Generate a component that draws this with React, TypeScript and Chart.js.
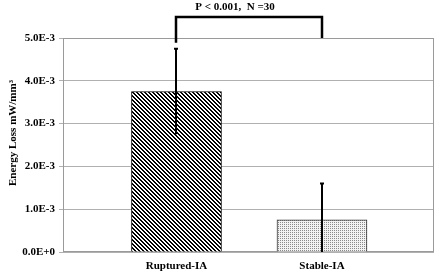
import React, { useEffect, useRef } from "react";
import { Chart, registerables } from "chart.js";

Chart.register(...registerables);

const CATEGORIES = ["Ruptured-IA", "Stable-IA"];
const MEANS = [3.75e-3, 0.75e-3];
const ERRORS = [1.0e-3, 0.85e-3];
const Y_TICKS = [0, 1e-3, 2e-3, 3e-3, 4e-3, 5e-3];
const ANNOTATION = "P < 0.001,  N =30";
const Y_TITLE = "Energy Loss mW/mm\u00B3";

const FONT = "'Liberation Serif', 'Times New Roman', serif";

function makeHatch(): CanvasPattern | string {
  const c = document.createElement("canvas");
  c.width = 4;
  c.height = 4;
  const g = c.getContext("2d");
  if (!g) return "#000";
  g.fillStyle = "#ffffff";
  g.fillRect(0, 0, 4, 4);
  g.fillStyle = "#000000";
  for (let y = 0; y < 4; y++) {
    for (let x = 0; x < 4; x++) {
      const d = (((x - y) % 4) + 4) % 4;
      if (d === 0 || d === 1) g.fillRect(x, y, 1, 1);
    }
  }
  const p = g.createPattern(c, "repeat");
  return p || "#000";
}

function makeDots(): CanvasPattern | string {
  const c = document.createElement("canvas");
  c.width = 2;
  c.height = 2;
  const g = c.getContext("2d");
  if (!g) return "#ccc";
  g.fillStyle = "#f2f2f2";
  g.fillRect(0, 0, 2, 2);
  g.fillStyle = "#8a8a8a";
  g.fillRect(0, 0, 1, 1);
  const p = g.createPattern(c, "repeat");
  return p || "#ccc";
}

const framePlugin = {
  id: "frame",
  beforeDatasetsDraw(chart: any) {
    const { ctx, chartArea } = chart;
    ctx.save();
    ctx.strokeStyle = "#9a9a9a";
    ctx.lineWidth = 1;
    ctx.strokeRect(
      Math.round(chartArea.left) + 0.5,
      Math.round(chartArea.top) + 0.5,
      Math.round(chartArea.right - chartArea.left) - 1,
      Math.round(chartArea.bottom - chartArea.top) - 1
    );
    ctx.restore();
  },
};

const errorPlugin = {
  id: "errorBars",
  afterDatasetsDraw(chart: any) {
    const { ctx } = chart;
    const xs = chart.scales.x;
    const ys = chart.scales.y;
    ctx.save();
    ctx.strokeStyle = "#000";
    ctx.lineWidth = 2;
    MEANS.forEach((m, i) => {
      const x = Math.round(xs.getPixelForValue(i));
      const yTop = ys.getPixelForValue(m + ERRORS[i]);
      const yBot = ys.getPixelForValue(Math.max(0, m - ERRORS[i]));
      ctx.beginPath();
      ctx.moveTo(x, yTop);
      ctx.lineTo(x, yBot);
      ctx.moveTo(x - 2, yTop);
      ctx.lineTo(x + 2, yTop);
      ctx.stroke();
    });
    ctx.restore();
  },
  afterDraw(chart: any) {
    const { ctx, chartArea } = chart;
    const xs = chart.scales.x;
    const ys = chart.scales.y;
    const xl = Math.round(xs.getPixelForValue(0));
    const xr = Math.round(xs.getPixelForValue(1));
    const top = chartArea.top - 21;
    const leftBottom = ys.getPixelForValue(MEANS[0] + ERRORS[0]) - 6;
    ctx.save();
    ctx.strokeStyle = "#000";
    ctx.lineWidth = 2.5;
    ctx.beginPath();
    ctx.moveTo(xl, leftBottom);
    ctx.lineTo(xl, top);
    ctx.lineTo(xr, top);
    ctx.lineTo(xr, chartArea.top);
    ctx.stroke();
    ctx.fillStyle = "#000";
    ctx.font = `bold 11px ${FONT}`;
    ctx.textAlign = "center";
    ctx.textBaseline = "middle";
    ctx.fillText(ANNOTATION, (xl + xr) / 2 - 14, top - 10);
    // y title
    ctx.translate(13, (chartArea.top + chartArea.bottom) / 2 - 12);
    ctx.rotate(-Math.PI / 2);
    ctx.fillText(Y_TITLE, 0, 0);
    ctx.restore();
  },
};

export default function App() {
  const ref = useRef<HTMLCanvasElement | null>(null);

  useEffect(() => {
    document.body.style.margin = "0";
    const canvas = ref.current;
    if (!canvas) return;
    const hatch = makeHatch();
    const dots = makeDots();
    const chart = new Chart(canvas, {
      type: "bar",
      data: {
        datasets: [
          {
            data: MEANS.map((v, i) => ({ x: i, y: v })),
            backgroundColor: [hatch, dots] as any,
            borderColor: ["#000000", "#333333"],
            borderWidth: 1,
            barThickness: 90,
          },
        ],
      },
      options: {
        animation: false,
        responsive: false,
        events: [],
        layout: { padding: { top: 38, right: 6, left: 0, bottom: 0 } },
        plugins: {
          legend: { display: false },
          tooltip: { enabled: false },
        },
        scales: {
          x: {
            type: "linear",
            min: -0.78,
            max: 1.77,
            offset: false,
            grid: { display: false, drawTicks: false, offset: false },
            border: { display: false },
            afterBuildTicks: (scale: any) => {
              scale.ticks = CATEGORIES.map((_, i) => ({ value: i }));
            },
            afterFit: (scale: any) => {
              scale.height = 24;
            },
            ticks: {
              padding: 8,
              color: "#000",
              maxRotation: 0,
              autoSkip: false,
              font: { family: FONT, size: 11, weight: "bold" },
              callback: (v: any) => CATEGORIES[Number(v)] ?? "",
            },
          },
          y: {
            type: "linear",
            min: 0,
            max: 5e-3,
            grid: { color: "#b0b0b0", tickLength: 4, lineWidth: 1 },
            border: { display: false },
            afterBuildTicks: (scale: any) => {
              scale.ticks = Y_TICKS.map((v) => ({ value: v }));
            },
            afterFit: (scale: any) => {
              scale.width = 63;
            },
            ticks: {
              padding: 4,
              color: "#000",
              font: { family: FONT, size: 11, weight: "bold" },
              callback: (v: any) => Number(v).toExponential(1).toUpperCase(),
            },
          },
        },
      } as any,
      plugins: [framePlugin, errorPlugin],
    });
    return () => chart.destroy();
  }, []);

  return (
    <div style={{ width: 440, height: 276 }}>
      <canvas ref={ref} width={440} height={276} style={{ display: "block" }} />
    </div>
  );
}
